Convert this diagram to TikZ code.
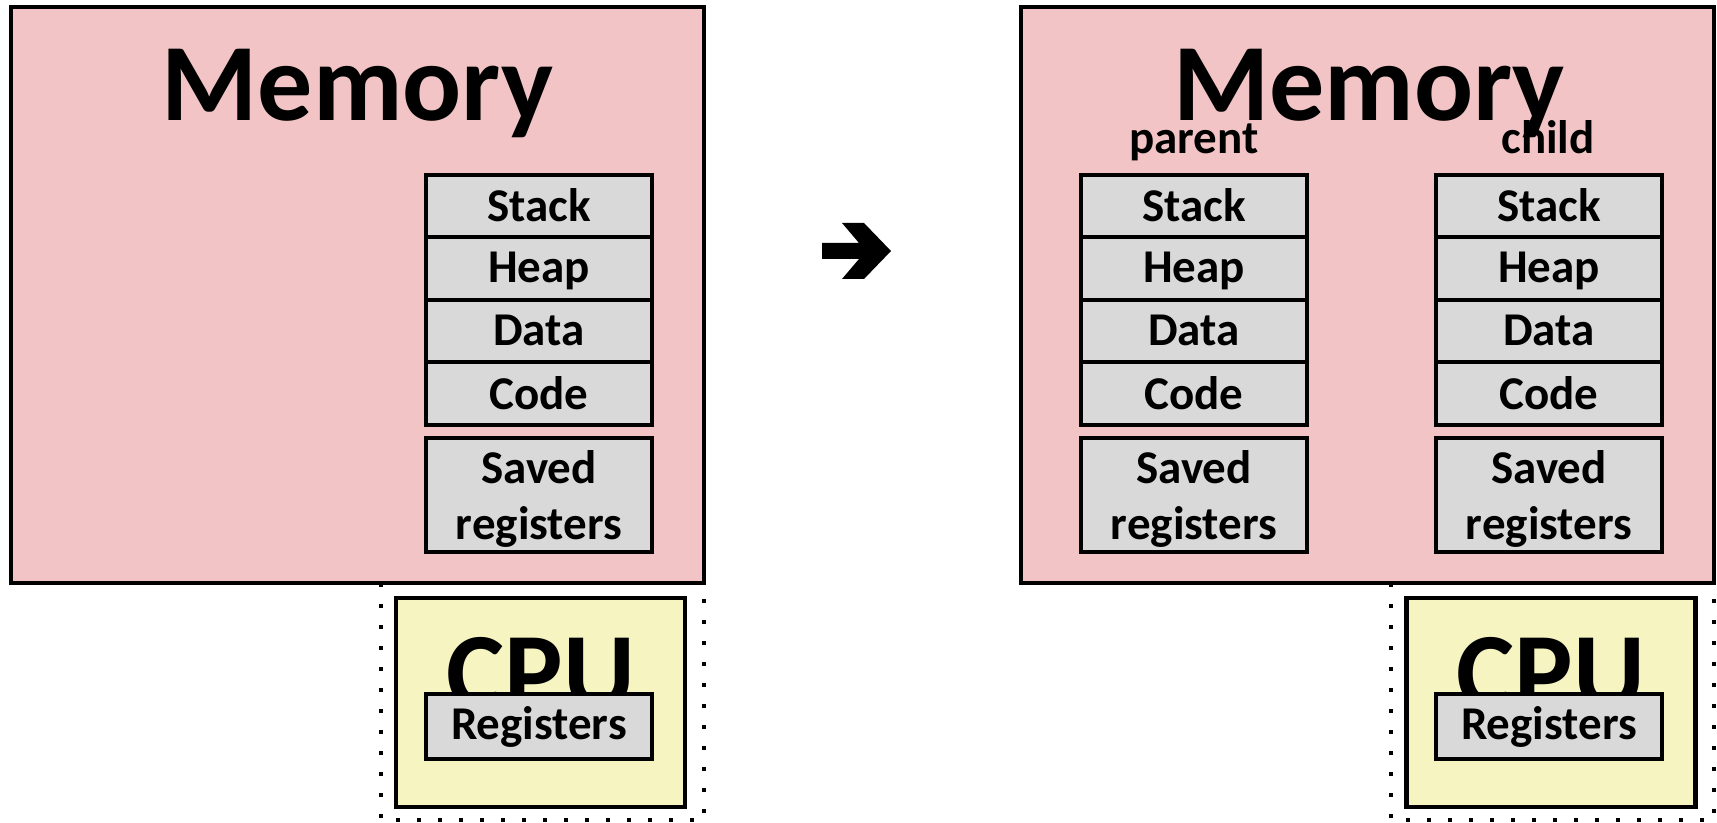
\documentclass[tikz,border=0pt]{standalone}
\usepackage{fontspec}
\setmainfont{Carlito}
\usepackage{tikz}

\definecolor{mempink}{RGB}{242,196,197}
\definecolor{cpuyellow}{RGB}{246,244,192}
\definecolor{seggray}{RGB}{217,217,217}

\begin{document}
\begin{tikzpicture}[x=0.5pt,y=-0.5pt,
    membox/.style={draw,line width=2.25pt,fill=mempink,minimum width=346.5pt,minimum height=288pt,inner sep=0pt},
    cpubox/.style={draw,line width=2.25pt,fill=cpuyellow,minimum width=144.5pt,minimum height=104.5pt,inner sep=0pt},
    segbox/.style={draw,line width=2pt,fill=seggray,minimum width=113pt,inner sep=0pt,font=\bfseries\fontsize{23.5}{28}\selectfont,align=center},
    bigtext/.style={font=\bfseries\fontsize{55}{60}\selectfont,inner sep=0pt},
    smalltext/.style={font=\bfseries\fontsize{23.5}{28}\selectfont,inner sep=0pt},
    dots/.style={line width=2pt,dash pattern=on 2pt off 8.5pt}]
    \useasboundingbox (0,0) rectangle (1717,823);

    % cpu frames behind the memory
    \draw [dots] (381,583) rectangle (704,820);
    \draw [dots] (1391,583) rectangle (1714,820);

    \node [membox] (lmem) at (357.5,295) {};
    \node [membox] (rmem) at (1367.5,295) {};
    \node [bigtext,anchor=base] (lmemtxt) at (357.5,121) {Memory};
    \node [bigtext,anchor=base] (rmemtxt) at (1369,121) {Memory};
    \node [smalltext,anchor=base] (parent) at (1194,154) {parent};
    \node [smalltext,anchor=base] (child) at (1548,154) {child};

    \foreach \col/\cx in {l/539,p/1194,c/1549} {
        \foreach \seg [count=\i] in {Stack,Heap,Data,Code}
            \node [segbox,minimum height=31.25pt,text depth=1pt] (\col\i) at (\cx,{175+62.5*(\i-0.5)}) {\seg};
        \node [segbox,minimum height=57pt,inner ysep=0pt,text depth=0pt] (\col saved) at (\cx,495) {Saved\\registers};
    }

    \node [cpubox] (lcpu) at (540.5,702.5) {};
    \node [cpubox] (rcpu) at (1551,702.5) {};
    \node [bigtext,anchor=base] (lcputxt) at (541,709) {CPU};
    \node [bigtext,anchor=base] (rcputxt) at (1551,709) {CPU};
    \node [segbox,minimum height=32.5pt] (lregs) at (539,726.5) {Registers};
    \node [segbox,minimum height=32.5pt] (rregs) at (1549,726.5) {Registers};

    \fill (822,243)--(859,243)--(842,223)--(864,223)--(891,251)--(864,279)--(842,279)--(859,259)--(822,259)--cycle;
\end{tikzpicture}
\end{document}
